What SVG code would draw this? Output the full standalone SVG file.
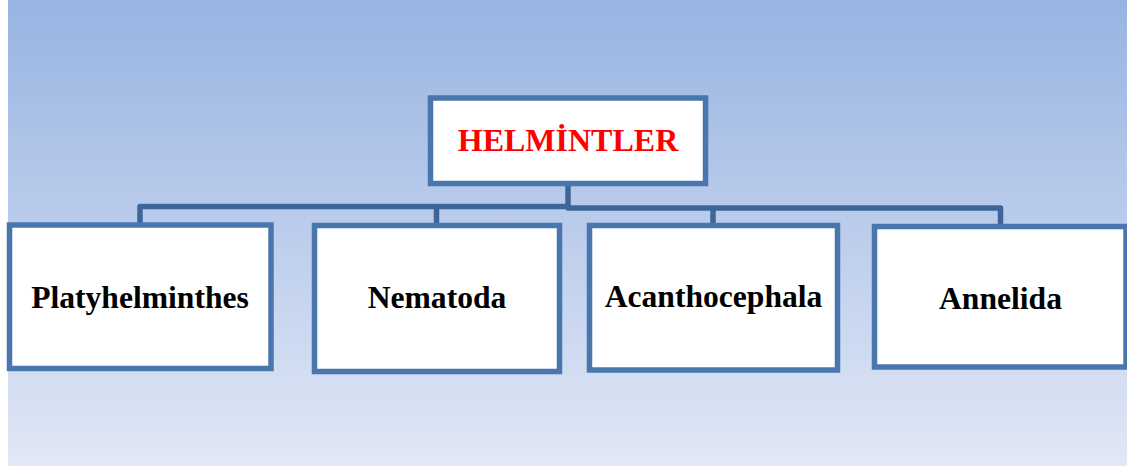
<svg xmlns="http://www.w3.org/2000/svg" width="1127" height="466" viewBox="0 0 1127 466">
  <defs>
    <linearGradient id="bg" x1="0" y1="0" x2="0" y2="1">
      <stop offset="0" stop-color="#97b4e2"/>
      <stop offset="0.5" stop-color="#bccdec"/>
      <stop offset="1" stop-color="#e1e8f6"/>
    </linearGradient>
    <style>
      .box { fill: #ffffff; stroke: #4a76ae; stroke-width: 5.5; }
      .conn { fill: none; stroke: #3d6598; stroke-width: 5.5; stroke-linejoin: round; }
      .lbl { font-family: "Liberation Serif", "Times New Roman", serif; font-weight: bold; font-size: 31.6px; fill: #000000; text-anchor: middle; }
      .root { font-size: 32px; fill: #ff0000; }
    </style>
  </defs>
  <rect x="0" y="0" width="1127" height="466" fill="#ffffff"/>
  <rect x="8" y="0" width="1119" height="466" fill="url(#bg)"/>

  <g id="connectors">
    <path class="conn" d="M568 185 V206.5 H140 V223"/>
    <path class="conn" d="M436.5 206.5 V223"/>
    <path class="conn" d="M568 206.5 V208 H1000.5 V224"/>
    <path class="conn" d="M713 208 V223"/>
  </g>

  <g id="node-helmintler">
    <rect class="box" x="430.5" y="98" width="275" height="85.5"/>
    <text class="lbl root" x="568" y="151">HELMİNTLER</text>
  </g>
  <g id="node-platyhelminthes">
    <rect class="box" x="9.5" y="225" width="261.5" height="143.5"/>
    <text class="lbl" x="140" y="308">Platyhelminthes</text>
  </g>
  <g id="node-nematoda">
    <rect class="box" x="314.5" y="225.5" width="245" height="146"/>
    <text class="lbl" x="437" y="308">Nematoda</text>
  </g>
  <g id="node-acanthocephala">
    <rect class="box" x="589.5" y="225.5" width="248" height="144.5"/>
    <text class="lbl" x="713.5" y="307">Acanthocephala</text>
  </g>
  <g id="node-annelida">
    <rect class="box" x="874.5" y="226.5" width="251.5" height="140.5"/>
    <text class="lbl" x="1000.5" y="309">Annelida</text>
  </g>
</svg>
